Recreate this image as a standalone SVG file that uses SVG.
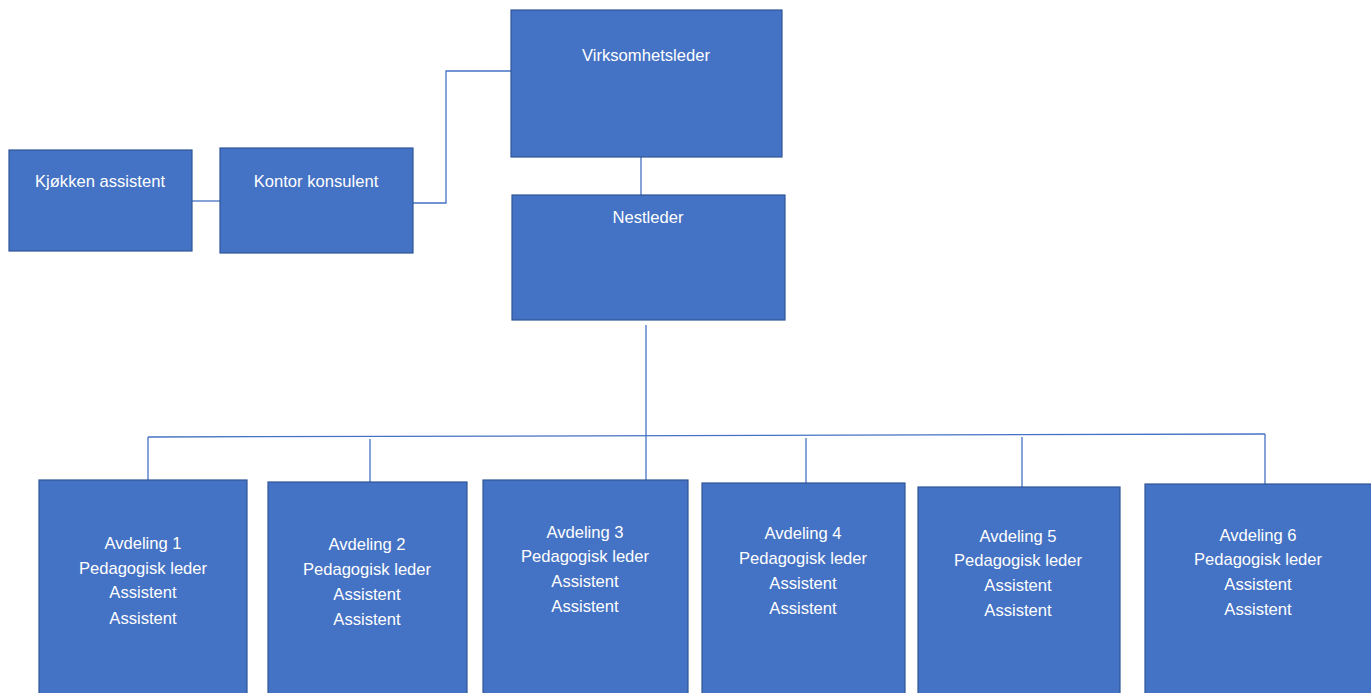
<svg xmlns="http://www.w3.org/2000/svg" width="1371" height="693" viewBox="0 0 1371 693">
<style>
.box{fill:#4472C4;stroke:#2F5597;stroke-width:1.2}
.t{font-family:"Liberation Sans",Arial,sans-serif;font-size:16.6px;fill:#fff;text-anchor:middle}
.c{fill:none;stroke:#4472C4;stroke-width:1.3}
</style>
<rect width="1371" height="693" fill="#fff"/>
<g id="connectors">
<path class="c" d="M192 201H220"/>
<path class="c" d="M413 203H446V71H511"/>
<path class="c" d="M641 157V195"/>
<path class="c" d="M646 325V480"/>
<path class="c" d="M148 437L1265 434"/>
<path class="c" d="M148 437V480"/>
<path class="c" d="M370 439V482"/>
<path class="c" d="M806 438V483"/>
<path class="c" d="M1022 437V487"/>
<path class="c" d="M1265 434V484"/>
</g>
<g id="virksomhetsleder"><rect class="box" x="511" y="10" width="271" height="147"/><text class="t" x="646" y="61">Virksomhetsleder</text></g>
<g id="nestleder"><rect class="box" x="512" y="195" width="273" height="125"/><text class="t" x="648" y="223">Nestleder</text></g>
<g id="kjokken"><rect class="box" x="9" y="150" width="183" height="101"/><text class="t" x="100" y="187">Kjøkken assistent</text></g>
<g id="kontor"><rect class="box" x="220" y="148" width="193" height="105"/><text class="t" x="316" y="187">Kontor konsulent</text></g>
<g id="avd1"><rect class="box" x="39" y="480" width="208" height="220"/>
<text class="t" x="143" y="549">Avdeling 1</text><text class="t" x="143" y="574">Pedagogisk leder</text><text class="t" x="143" y="598">Assistent</text><text class="t" x="143" y="624">Assistent</text></g>
<g id="avd2"><rect class="box" x="268" y="482" width="199" height="220"/>
<text class="t" x="367" y="550">Avdeling 2</text><text class="t" x="367" y="575">Pedagogisk leder</text><text class="t" x="367" y="600">Assistent</text><text class="t" x="367" y="625">Assistent</text></g>
<g id="avd3"><rect class="box" x="483" y="480" width="205" height="220"/>
<text class="t" x="585" y="538">Avdeling 3</text><text class="t" x="585" y="562">Pedagogisk leder</text><text class="t" x="585" y="587">Assistent</text><text class="t" x="585" y="612">Assistent</text></g>
<g id="avd4"><rect class="box" x="702" y="483" width="203" height="220"/>
<text class="t" x="803" y="539">Avdeling 4</text><text class="t" x="803" y="564">Pedagogisk leder</text><text class="t" x="803" y="589">Assistent</text><text class="t" x="803" y="614">Assistent</text></g>
<g id="avd5"><rect class="box" x="918" y="487" width="202" height="220"/>
<text class="t" x="1018" y="542">Avdeling 5</text><text class="t" x="1018" y="566">Pedagogisk leder</text><text class="t" x="1018" y="591">Assistent</text><text class="t" x="1018" y="616">Assistent</text></g>
<g id="avd6"><rect class="box" x="1145" y="484" width="230" height="220"/>
<text class="t" x="1258" y="541">Avdeling 6</text><text class="t" x="1258" y="565">Pedagogisk leder</text><text class="t" x="1258" y="590">Assistent</text><text class="t" x="1258" y="615">Assistent</text></g>
</svg>
